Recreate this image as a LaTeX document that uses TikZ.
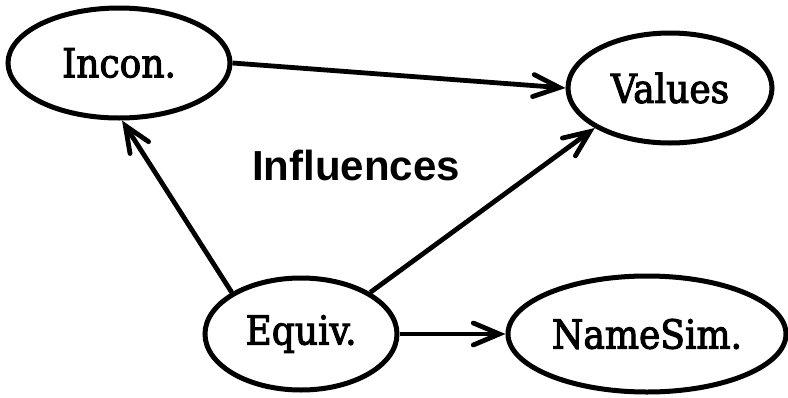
\documentclass[tikz,border=0pt]{standalone}
\usepackage{fontspec}
\setmainfont{DejaVu Serif Condensed}[FakeBold=2.5]
\newfontfamily\labelsans{Liberation Sans}
\usetikzlibrary{shapes.geometric,arrows.meta}
\begin{document}
\begin{tikzpicture}[x=1pt,y=-1pt,
  ell/.style={ellipse,draw=black,line width=5pt,inner sep=0pt,fill=white,
    font=\fontsize{40}{44}\selectfont},
  conn/.style={line width=4.8pt,-{Straight Barb[length=26pt,width=22pt,line width=4.8pt,line cap=round]}}]
\useasboundingbox[fill=white] (0,0) rectangle (788,397);
\node[ell,minimum width=222pt,minimum height=110pt] (inc) at (119,63) {Incon.};
\node[ell,minimum width=204pt,minimum height=110pt] (val) at (670,88) {Values};
\node[ell,minimum width=192pt,minimum height=112pt] (eq) at (301,334) {Equiv.};
\node[ell,minimum width=278pt,minimum height=116pt] (ns) at (647,334) {NameSim.};
\node[font=\labelsans\bfseries\fontsize{42}{46}\selectfont] (lab) at (356,165) {Influences};
\draw[conn] (inc.east) -- (val.west);
\draw[conn] (eq.149) -- (inc.273);
\draw[conn] (eq.31) -- (val.208);
\draw[conn] (eq.east) -- (ns.west);
\end{tikzpicture}
\end{document}
